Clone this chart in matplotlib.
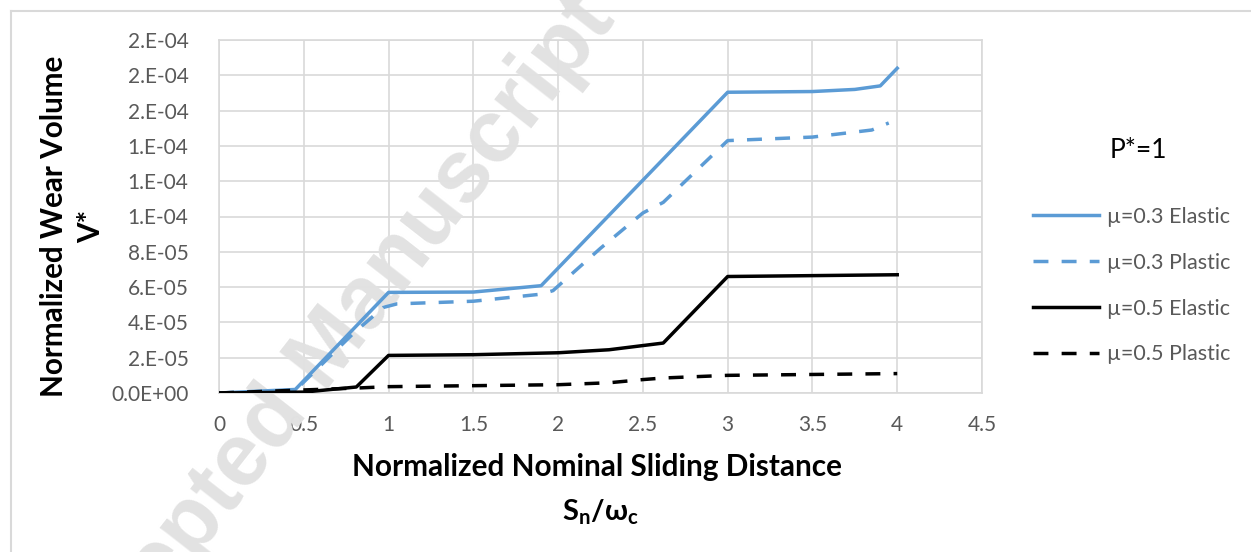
import matplotlib
matplotlib.use("Agg")
import matplotlib.pyplot as plt
from matplotlib.lines import Line2D

plt.rcParams['font.family'] = ['Lato', 'DejaVu Sans']
plt.rcParams['mathtext.fontset'] = 'custom'
plt.rcParams['mathtext.rm'] = 'Lato'
plt.rcParams['mathtext.bf'] = 'Lato:bold'

# data
x_03_elastic = [0, 0.45, 1.0, 1.5, 1.9, 3.0, 3.5, 3.75, 3.9, 4.0]
y_03_elastic = [0, 2e-6, 5.70e-5, 5.72e-5, 6.08e-5, 1.704e-4, 1.708e-4, 1.72e-4, 1.74e-4, 1.84e-4]

x_03_plastic = [0, 0.45, 0.8, 0.97, 1.05, 1.5, 1.9, 1.97, 2.25, 2.5, 2.62, 2.75, 3.0, 3.5, 3.85, 3.95]
y_03_plastic = [0, 1.5e-6, 3.45e-5, 4.85e-5, 5.05e-5, 5.2e-5, 5.6e-5, 5.8e-5, 8.2e-5, 1.02e-4,
                1.08e-4, 1.2e-4, 1.43e-4, 1.45e-4, 1.49e-4, 1.53e-4]

x_05_elastic = [0, 0.5, 0.81, 1.0, 1.5, 2.0, 2.3, 2.62, 3.0, 4.0]
y_05_elastic = [0, 5e-7, 3.4e-6, 2.13e-5, 2.17e-5, 2.28e-5, 2.45e-5, 2.83e-5, 6.6e-5, 6.7e-5]

x_05_plastic = [0, 0.81, 1.0, 2.0, 2.3, 2.5, 2.62, 3.0, 4.0]
y_05_plastic = [0, 2.8e-6, 3.6e-6, 4.7e-6, 5.8e-6, 7.6e-6, 8.5e-6, 1.0e-5, 1.1e-5]

labels = ["\u00b5=0.3 Elastic", "\u00b5=0.3 Plastic", "\u00b5=0.5 Elastic", "\u00b5=0.5 Plastic"]

x_ticks = [0, 0.5, 1, 1.5, 2, 2.5, 3, 3.5, 4, 4.5]
x_tick_labels = ["0", "0.5", "1", "1.5", "2", "2.5", "3", "3.5", "4", "4.5"]
y_ticks = [0, 2e-5, 4e-5, 6e-5, 8e-5, 1e-4, 1.2e-4, 1.4e-4, 1.6e-4, 1.8e-4, 2e-4]
y_tick_labels = ["0.0E+00", "2.E-05", "4.E-05", "6.E-05", "8.E-05", "1.E-04",
                 "1.E-04", "1.E-04", "2.E-04", "2.E-04", "2.E-04"]

W, H = 1251, 552
fig = plt.figure(figsize=(W / 100, H / 100), dpi=100)
ax = fig.add_axes([219 / W, (H - 393) / H, (982 - 219) / W, (393 - 40) / H])

blue = "#5B9BD5"
lw = 2.5
dash = (4.3, 3.8)
ax.plot(x_03_elastic, y_03_elastic, color=blue, lw=lw, zorder=3)
ax.plot(x_03_plastic, y_03_plastic, color=blue, lw=lw, dashes=dash, zorder=3)
ax.plot(x_05_elastic, y_05_elastic, color="black", lw=lw, zorder=3)
ax.plot(x_05_plastic, y_05_plastic, color="black", lw=lw, dashes=dash, zorder=3)

ax.set_xlim(0, 4.5)
ax.set_ylim(0, 2e-4)
ax.set_xticks(x_ticks)
ax.set_xticklabels(x_tick_labels)
ax.set_yticks(y_ticks)
ax.set_yticklabels(y_tick_labels)
ax.tick_params(length=0, labelsize=15, labelcolor="#595959")
ax.tick_params(axis="x", pad=16)
ax.tick_params(axis="y", pad=22)
ax.grid(True, color="#d9d9d9", lw=1.2)
ax.set_axisbelow(True)
for s in ax.spines.values():
    s.set_color("#d9d9d9")
    s.set_linewidth(1.2)

# watermark
ax.text(322 / W, (H - 360) / H, "Accepted Manuscript", transform=fig.transFigure,
        family="Liberation Sans", fontweight="bold", fontsize=64, color="#e2e2e2",
        rotation=52, ha="center", va="center", rotation_mode="anchor",
        clip_on=False, zorder=1)

# axis titles
fig.text(597 / W, (H - 467) / H, "Normalized Nominal Sliding Distance",
         fontsize=21.4, fontweight="bold", ha="center", va="center")
fig.text(600 / W, (H - 512) / H, r"$\mathbf{S_n/\omega_c}$",
         fontsize=21, ha="center", va="center")
fig.text(73 / W, (H - 226) / H, "Normalized Wear Volume\nV*",
         fontsize=21.3, fontweight="bold", ha="center", va="center",
         rotation=90, linespacing=1.4)

# legend
fig.text(1110 / W, (H - 150) / H, "P*=1", fontsize=19, ha="left", va="center")
handles = [Line2D([], [], color=blue, lw=lw),
           Line2D([], [], color=blue, lw=lw, dashes=dash),
           Line2D([], [], color="black", lw=lw),
           Line2D([], [], color="black", lw=lw, dashes=dash)]
leg = fig.legend(handles, labels, loc="upper left", bbox_to_anchor=(1033 / W, (H - 207) / H),
                 frameon=False, fontsize=15.5, handlelength=3.05, handletextpad=0.4,
                 labelspacing=1.2, borderpad=0, borderaxespad=0)
for t in leg.get_texts():
    t.set_color("#595959")

# outer frame of the chart area
fig.add_artist(Line2D([11 / W, 11 / W], [0, (H - 11) / H], color="#d9d9d9", lw=1.5,
                      transform=fig.transFigure))
fig.add_artist(Line2D([11 / W, 1], [(H - 11) / H, (H - 11) / H], color="#d9d9d9", lw=1.5,
                      transform=fig.transFigure))

fig.savefig("out.png", dpi=100)
